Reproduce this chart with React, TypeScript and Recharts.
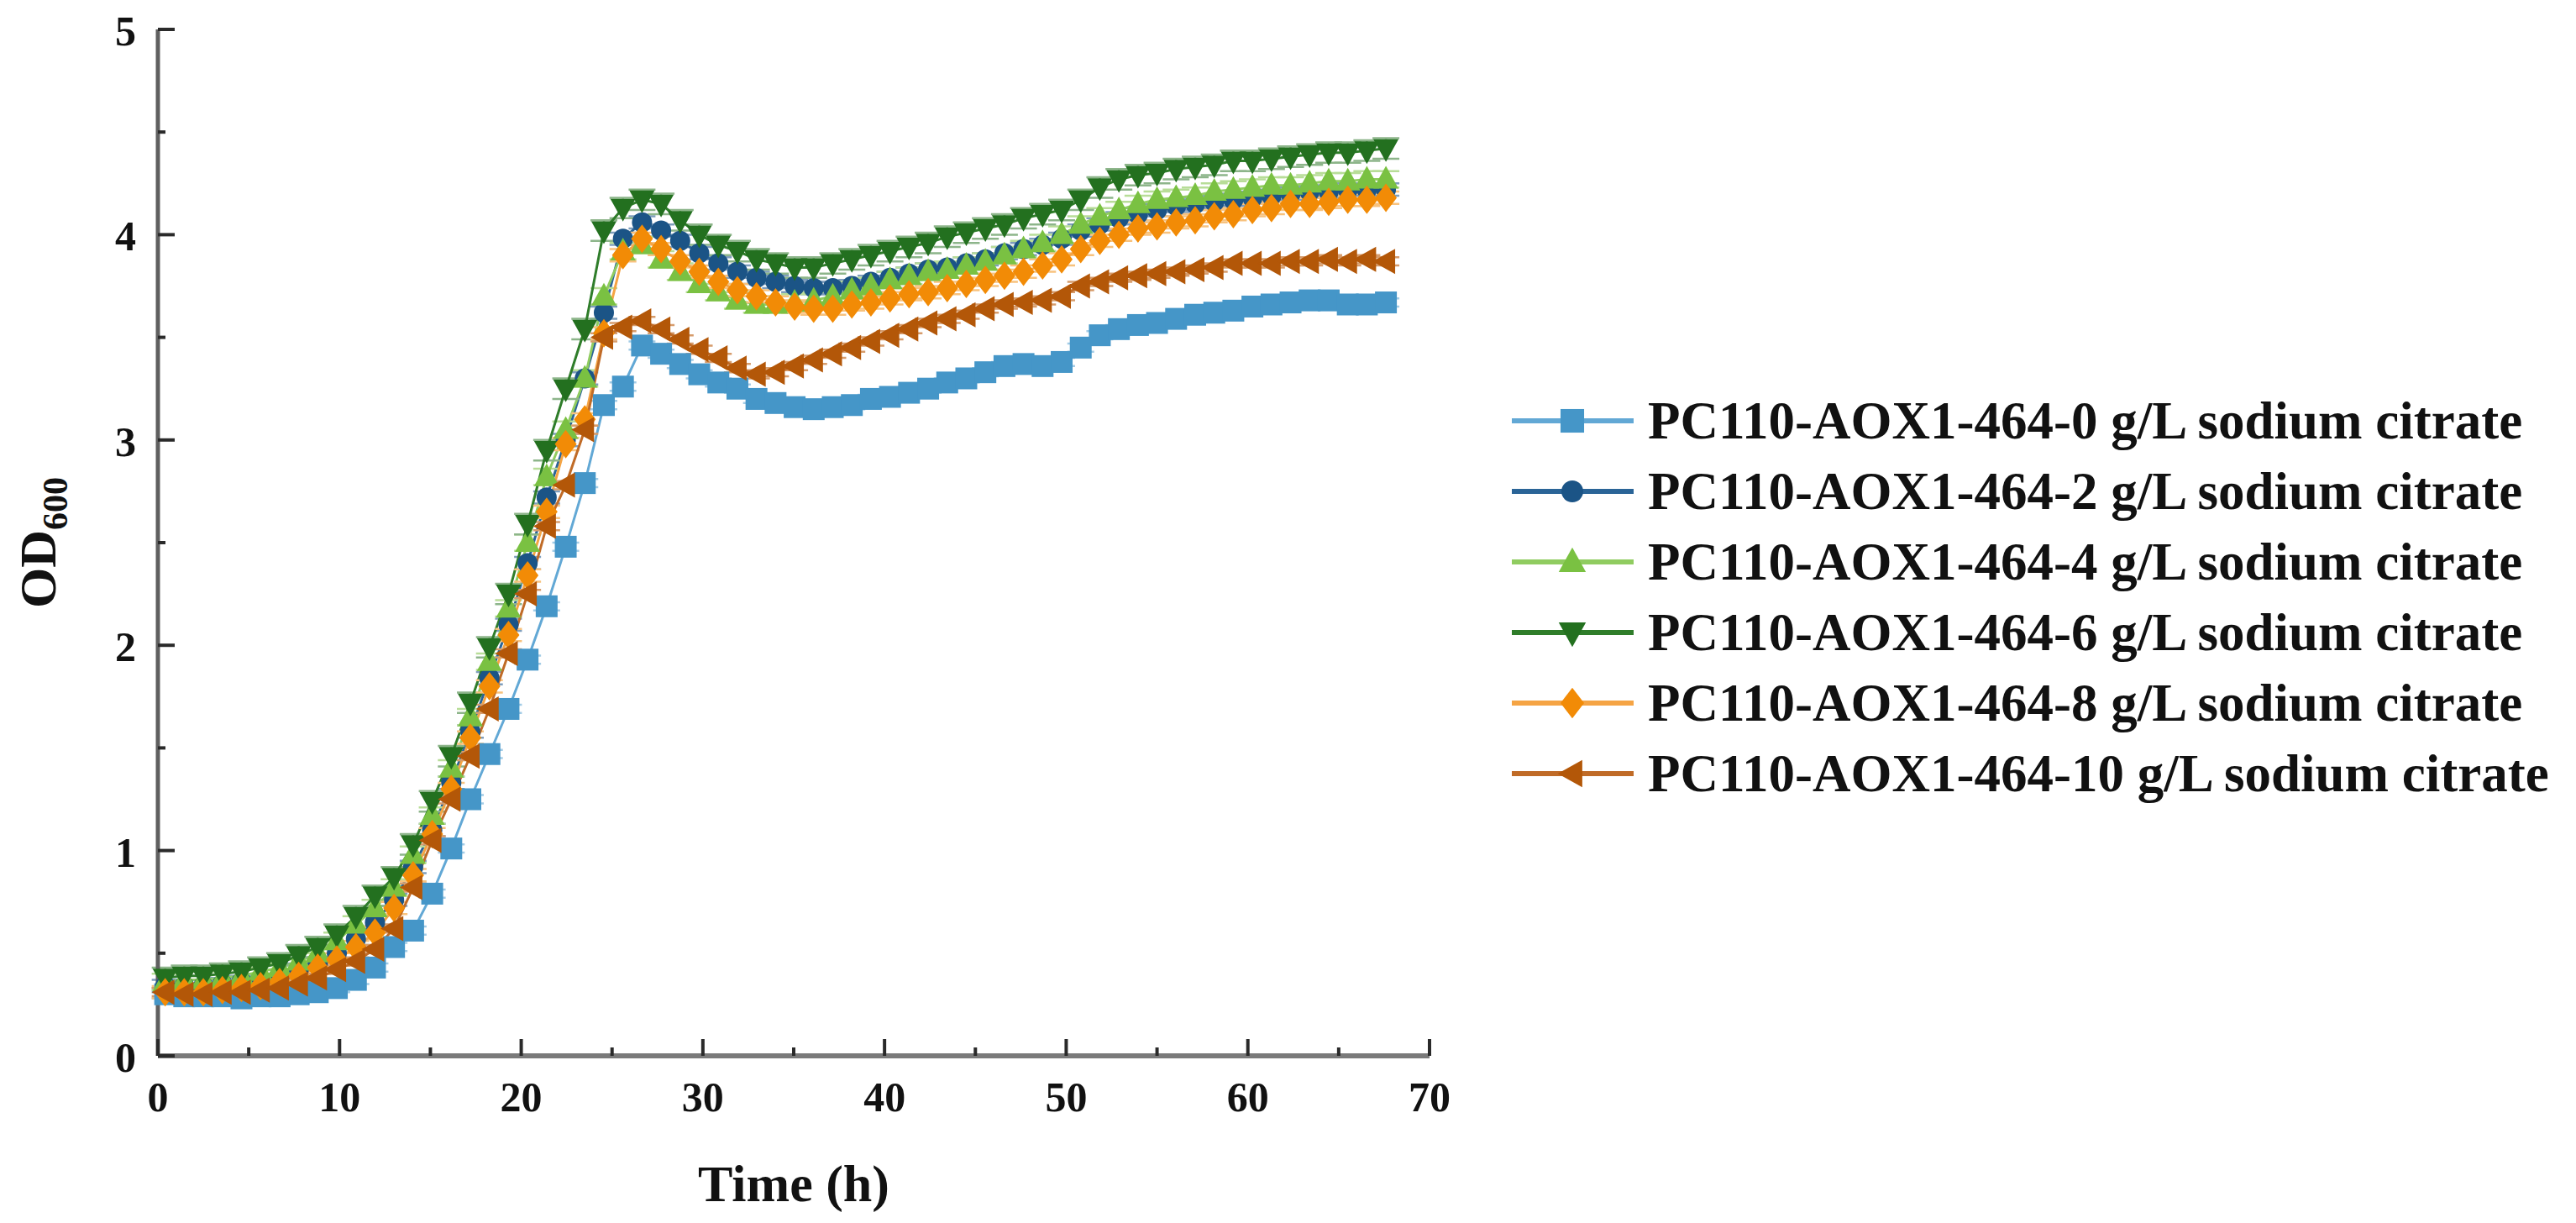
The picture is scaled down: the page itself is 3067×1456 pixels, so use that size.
import React from "react";
import { LineChart, Line, XAxis, YAxis, Legend, ErrorBar, Label } from "recharts";

// sampling times (h)
const times = [
  0.4, 1.45, 2.5, 3.55, 4.6, 5.65, 6.7, 7.75, 8.8, 9.85,
  10.9, 11.95, 13.0, 14.05, 15.1, 16.15, 17.2, 18.25, 19.3, 20.35,
  21.4, 22.45, 23.5, 24.55, 25.6, 26.65, 27.7, 28.75, 29.8, 30.85,
  31.9, 32.95, 34.0, 35.05, 36.1, 37.15, 38.2, 39.25, 40.3, 41.35,
  42.4, 43.45, 44.5, 45.55, 46.6, 47.65, 48.7, 49.75, 50.8, 51.85,
  52.9, 53.95, 55.0, 56.05, 57.1, 58.15, 59.2, 60.25, 61.3, 62.35,
  63.4, 64.45, 65.5, 66.55, 67.6,
];

// OD600 per sodium citrate level (g/L)
const od0 = [
  0.30, 0.29, 0.29, 0.29, 0.28, 0.29, 0.29, 0.30, 0.31, 0.33,
  0.37, 0.43, 0.53, 0.61, 0.79, 1.01, 1.25, 1.47, 1.69, 1.93,
  2.19, 2.48, 2.79, 3.17, 3.26, 3.46, 3.42, 3.37, 3.32, 3.28,
  3.25, 3.20, 3.18, 3.16, 3.15, 3.16, 3.17, 3.20, 3.21, 3.23,
  3.25, 3.28, 3.30, 3.33, 3.36, 3.37, 3.36, 3.38, 3.45, 3.51,
  3.54, 3.56, 3.57, 3.59, 3.61, 3.62, 3.63, 3.65, 3.66, 3.67,
  3.68, 3.68, 3.66, 3.66, 3.67,
];
const od2 = [
  0.34, 0.34, 0.34, 0.35, 0.36, 0.37, 0.39, 0.42, 0.45, 0.50,
  0.57, 0.65, 0.76, 0.92, 1.10, 1.33, 1.58, 1.84, 2.10, 2.40,
  2.72, 3.00, 3.30, 3.62, 3.98, 4.06, 4.02, 3.97, 3.91, 3.86,
  3.82, 3.79, 3.77, 3.75, 3.74, 3.74, 3.75, 3.77, 3.79, 3.81,
  3.83, 3.84, 3.86, 3.88, 3.91, 3.93, 3.95, 3.98, 4.02, 4.05,
  4.08, 4.10, 4.12, 4.14, 4.15, 4.16, 4.17, 4.18, 4.19, 4.20,
  4.21, 4.21, 4.22, 4.22, 4.22,
];
const od4 = [
  0.36, 0.37, 0.37, 0.38, 0.39, 0.41, 0.43, 0.46, 0.50, 0.56,
  0.64, 0.72, 0.82, 0.98, 1.17, 1.40, 1.65, 1.92, 2.18, 2.50,
  2.82, 3.05, 3.30, 3.70, 3.92, 3.95, 3.88, 3.82, 3.76, 3.72,
  3.68, 3.66, 3.66, 3.67, 3.68, 3.70, 3.73, 3.75, 3.78, 3.80,
  3.82, 3.83, 3.85, 3.87, 3.90, 3.93, 3.96, 4.00, 4.05, 4.09,
  4.12, 4.15, 4.17, 4.18, 4.19, 4.21, 4.22, 4.23, 4.24, 4.24,
  4.25, 4.26, 4.26, 4.27, 4.27,
];
const od6 = [
  0.38, 0.39, 0.39, 0.40, 0.41, 0.43, 0.45, 0.49, 0.53, 0.59,
  0.68, 0.78, 0.87, 1.03, 1.24, 1.46, 1.72, 1.99, 2.25, 2.59,
  2.95, 3.25, 3.54, 4.02, 4.13, 4.17, 4.15, 4.07, 4.00, 3.95,
  3.92, 3.88, 3.86, 3.84, 3.84, 3.86, 3.88, 3.90, 3.92, 3.94,
  3.96, 3.99, 4.01, 4.03, 4.05, 4.08, 4.10, 4.12, 4.17, 4.23,
  4.27, 4.29, 4.30, 4.32, 4.33, 4.34, 4.36, 4.36, 4.37, 4.38,
  4.39, 4.40, 4.40, 4.41, 4.42,
];
const od8 = [
  0.31, 0.31, 0.31, 0.32, 0.33, 0.34, 0.36, 0.39, 0.43, 0.47,
  0.53, 0.60, 0.72, 0.88, 1.08, 1.30, 1.55, 1.80, 2.05, 2.34,
  2.65, 2.98, 3.10, 3.52, 3.90, 3.98, 3.93, 3.87, 3.82, 3.77,
  3.73, 3.70, 3.67, 3.65, 3.64, 3.64, 3.66, 3.67, 3.69, 3.71,
  3.72, 3.74, 3.76, 3.78, 3.80, 3.82, 3.85, 3.88, 3.93, 3.97,
  4.00, 4.03, 4.04, 4.06, 4.07, 4.09, 4.10, 4.12, 4.13, 4.15,
  4.15, 4.16, 4.17, 4.17, 4.18,
];
const od10 = [
  0.31, 0.30, 0.30, 0.31, 0.31, 0.32, 0.33, 0.35, 0.38, 0.42,
  0.46, 0.52, 0.62, 0.82, 1.05, 1.25, 1.46, 1.69, 1.96, 2.25,
  2.58, 2.78, 3.05, 3.50, 3.55, 3.58, 3.54, 3.49, 3.44, 3.40,
  3.35, 3.32, 3.33, 3.36, 3.39, 3.42, 3.45, 3.48, 3.51, 3.54,
  3.57, 3.59, 3.61, 3.64, 3.66, 3.67, 3.68, 3.70, 3.75, 3.77,
  3.79, 3.80, 3.81, 3.82, 3.83, 3.84, 3.86, 3.86, 3.86, 3.87,
  3.87, 3.88, 3.87, 3.88, 3.87,
];

const seriesNames = [
  "PC110-AOX1-464-0 g/L sodium citrate",
  "PC110-AOX1-464-2 g/L sodium citrate",
  "PC110-AOX1-464-4 g/L sodium citrate",
  "PC110-AOX1-464-6 g/L sodium citrate",
  "PC110-AOX1-464-8 g/L sodium citrate",
  "PC110-AOX1-464-10 g/L sodium citrate",
];

// approximate standard deviations read off the error caps
const errs = [0.02, 0.03, 0.04, 0.05, 0.03, 0.02];

const xTicks = [0, 5, 10, 15, 20, 25, 30, 35, 40, 45, 50, 55, 60, 65, 70];
const yTicks = [0, 0.5, 1, 1.5, 2, 2.5, 3, 3.5, 4, 4.5, 5];

const FONT = '"Liberation Serif", "Times New Roman", serif';

type Shape = "square" | "circle" | "up" | "down" | "diamond" | "left";

const series = [
  { key: "od0", values: od0, shape: "square" as Shape, color: "#4596C8", line: "#62A8D5", errColor: "#A3CCE6" },
  { key: "od2", values: od2, shape: "circle" as Shape, color: "#1B5486", line: "#2A6497", errColor: "#7F9EBC" },
  { key: "od4", values: od4, shape: "up" as Shape, color: "#7AC142", line: "#90CC60", errColor: "#B8DD98" },
  { key: "od6", values: od6, shape: "down" as Shape, color: "#23701F", line: "#2F7D2A", errColor: "#8DB58A" },
  { key: "od8", values: od8, shape: "diamond" as Shape, color: "#F28B06", line: "#F5A444", errColor: "#F7C27E" },
  { key: "od10", values: od10, shape: "left" as Shape, color: "#B35708", line: "#C06B27", errColor: "#D69C6C" },
];

const chartData = times.map((t, i) => {
  const row: Record<string, number> = { t };
  series.forEach((s, k) => {
    row[s.key] = s.values[i];
    row[s.key + "Err"] = errs[k];
  });
  return row;
});

const Marker = ({ shape, cx, cy, fill, size = 1 }: { shape: Shape; cx: number; cy: number; fill: string; size?: number }) => {
  const k = size;
  switch (shape) {
    case "square":
      return <rect x={cx - 13 * k} y={cy - 13 * k} width={26 * k} height={26 * k} fill={fill} />;
    case "circle":
      return <circle cx={cx} cy={cy} r={12 * k} fill={fill} />;
    case "up":
      return <polygon points={`${cx},${cy - 16 * k} ${cx - 15 * k},${cy + 11 * k} ${cx + 15 * k},${cy + 11 * k}`} fill={fill} />;
    case "down":
      return <polygon points={`${cx - 15 * k},${cy - 11 * k} ${cx + 15 * k},${cy - 11 * k} ${cx},${cy + 16 * k}`} fill={fill} />;
    case "diamond":
      return <polygon points={`${cx},${cy - 17 * k} ${cx + 13 * k},${cy} ${cx},${cy + 17 * k} ${cx - 13 * k},${cy}`} fill={fill} />;
    default:
      return <polygon points={`${cx - 16 * k},${cy} ${cx + 11 * k},${cy - 15 * k} ${cx + 11 * k},${cy + 15 * k}`} fill={fill} />;
  }
};

const XTick = (props: any) => {
  const { x, y, payload } = props;
  const major = payload.value % 10 === 0;
  return (
    <g>
      <line x1={x} x2={x} y1={y} y2={y - (major ? 20 : 10)} stroke="#2a2a2a" strokeWidth={4} />
      {major && (
        <text x={x} y={y + 66} textAnchor="middle" fontFamily={FONT} fontWeight="bold" fontSize={50} fill="#111">
          {payload.value}
        </text>
      )}
    </g>
  );
};

const YTick = (props: any) => {
  const { x, y, payload } = props;
  const major = Number.isInteger(payload.value);
  return (
    <g>
      <line x1={x} x2={x + (major ? 20 : 9)} y1={y} y2={y} stroke="#2a2a2a" strokeWidth={4} />
      {major && (
        <text x={x - 26} y={y} dy="0.38em" textAnchor="end" fontFamily={FONT} fontWeight="bold" fontSize={50} fill="#111">
          {payload.value}
        </text>
      )}
    </g>
  );
};

const YLabel = (props: any) => {
  const { x, y, height } = props.viewBox;
  const cx = x + 28;
  const cy = y + height / 2;
  return (
    <text
      x={cx}
      y={cy}
      transform={`rotate(-90 ${cx} ${cy})`}
      textAnchor="middle"
      fontFamily={FONT}
      fontWeight="bold"
      fontSize={62}
      fill="#111"
    >
      OD
      <tspan fontSize={42} dy={14}>600</tspan>
    </text>
  );
};

const XLabel = (props: any) => {
  const { x, y, width } = props.viewBox;
  return (
    <text x={x + width / 2} y={y + 173} textAnchor="middle" fontFamily={FONT} fontWeight="bold" fontSize={62} fill="#111">
      Time (h)
    </text>
  );
};

const LegendBox = () => (
  <svg width={1277} height={540}>
    {series.map((s, i) => {
      const cy = 39 + i * 84;
      return (
        <g key={s.key}>
          <line x1={10} x2={155} y1={cy} y2={cy} stroke={s.line} strokeWidth={6} />
          <Marker shape={s.shape} cx={82} cy={cy} fill={s.color} size={1.08} />
          <text x={172} y={cy + 21} fontFamily={FONT} fontWeight="bold" fontSize={63} fill="#111">
            {seriesNames[i]}
          </text>
        </g>
      );
    })}
  </svg>
);

export default function App() {
  return (
    <div style={{ position: "absolute", left: 0, top: 0, width: 3067, height: 1456, background: "#fff" }}>
      <LineChart width={3067} height={1456} data={chartData} margin={{ top: 35, right: 1365, bottom: 49, left: 38 }}>
        <XAxis
          dataKey="t"
          type="number"
          domain={[0, 70]}
          ticks={xTicks}
          interval={0}
          height={150}
          tickSize={0}
          tickMargin={0}
          tickLine={false}
          tick={<XTick />}
          axisLine={{ stroke: "#7a7a7a", strokeWidth: 6 }}
        >
          <Label content={<XLabel />} />
        </XAxis>
        <YAxis
          type="number"
          domain={[0, 5]}
          ticks={yTicks}
          interval={0}
          width={150}
          tickSize={0}
          tickMargin={0}
          tickLine={false}
          tick={<YTick />}
          axisLine={{ stroke: "#606060", strokeWidth: 5 }}
        >
          <Label content={<YLabel />} />
        </YAxis>
        <Legend
          layout="vertical"
          align="center"
          verticalAlign="middle"
          wrapperStyle={{ left: 1790, top: 462, width: 1277, height: 540 }}
          content={() => <LegendBox />}
        />
        {series.map((s, i) => (
          <Line
            key={s.key}
            type="linear"
            dataKey={s.key}
            name={seriesNames[i]}
            stroke={s.line}
            strokeWidth={3}
            isAnimationActive={false}
            activeDot={false}
            dot={(p: any) => <Marker key={`${s.key}-${p.index}`} shape={s.shape} cx={p.cx} cy={p.cy} fill={s.color} />}
          >
            <ErrorBar dataKey={`${s.key}Err`} direction="y" width={16} stroke={s.errColor} strokeWidth={2.5} />
          </Line>
        ))}
      </LineChart>
    </div>
  );
}
